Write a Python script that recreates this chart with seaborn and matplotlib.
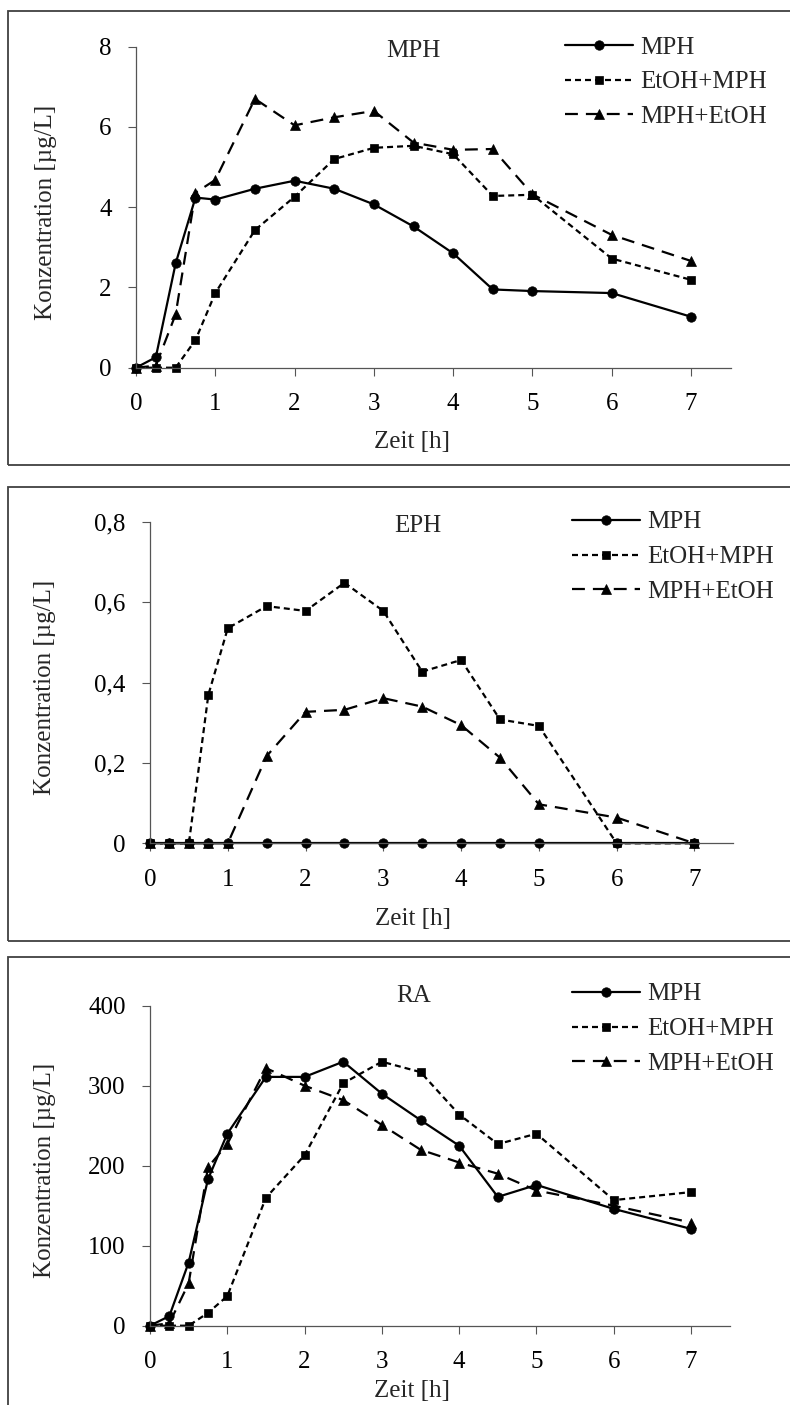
import matplotlib
matplotlib.use("Agg")
import matplotlib.pyplot as plt
from matplotlib.patches import Rectangle
import pandas as pd
import seaborn as sns

# --- data ------------------------------------------------------------------
zeit = [0, 0.25, 0.5, 0.75, 1, 1.5, 2, 2.5, 3, 3.5, 4, 4.5, 5, 6, 7]
serien = ["MPH", "EtOH+MPH", "MPH+EtOH"]

# panel MPH
mph_mph = [0, 0.26, 2.60, 4.24, 4.19, 4.46, 4.66, 4.46, 4.07, 3.52, 2.85, 1.95, 1.91, 1.86, 1.27]
mph_etoh_mph = [0, 0, 0, 0.69, 1.86, 3.43, 4.26, 5.20, 5.48, 5.53, 5.32, 4.28, 4.31, 2.72, 2.19]
mph_mph_etoh = [0, 0.05, 1.33, 4.36, 4.68, 6.70, 6.04, 6.24, 6.40, 5.61, 5.43, 5.45, 4.32, 3.31, 2.66]

# panel EPH
eph_mph = [0, 0, 0, 0, 0, 0, 0, 0, 0, 0, 0, 0, 0, 0, 0]
eph_etoh_mph = [0, 0, 0, 0.369, 0.535, 0.590, 0.578, 0.648, 0.578, 0.427, 0.456, 0.308, 0.292, 0, 0]
eph_mph_etoh = [0, 0, 0, 0, 0, 0.217, 0.327, 0.332, 0.361, 0.340, 0.294, 0.213, 0.097, 0.064, 0]

# panel RA
ra_mph = [0, 12, 79, 183, 240, 311, 311, 330, 290, 257, 225, 161, 176, 146, 121]
ra_etoh_mph = [0, 0, 0, 16, 37, 160, 213, 303, 330, 317, 264, 227, 240, 157, 167]
ra_mph_etoh = [0, 3, 53, 198, 227, 322, 300, 282, 251, 220, 204, 190, 169, 150, 129]

x_ticks = [0, 1, 2, 3, 4, 5, 6, 7]
mph_yticks = [0, 2, 4, 6, 8]
mph_ylabels = ["0", "2", "4", "6", "8"]
eph_yticks = [0, 0.2, 0.4, 0.6, 0.8]
eph_ylabels = ["0", "0,2", "0,4", "0,6", "0,8"]
ra_yticks = [0, 100, 200, 300, 400]
ra_ylabels = ["0", "100", "200", "300", "400"]

panels = [
    ("MPH", [mph_mph, mph_etoh_mph, mph_mph_etoh], mph_yticks, mph_ylabels),
    ("EPH", [eph_mph, eph_etoh_mph, eph_mph_etoh], eph_yticks, eph_ylabels),
    ("RA", [ra_mph, ra_etoh_mph, ra_mph_etoh], ra_yticks, ra_ylabels),
]

# --- layout (pixels, measured from the top-left) ---------------------------
W, H = 790, 1405
# axes box: left, right, top, bottom
axes_px = [(136, 730.7, 46.7, 367.7), (150, 733.3, 521.7, 843.3), (150, 729.7, 1005.7, 1325.7)]
frames_px = [(8, 11, 465), (8, 486.7, 941), (8, 957, 1425)]
title_px = [(413, 56.7), (417.5, 531.7), (413.5, 1001.7)]
legend_px = [(565, 82), (572, 557), (572, 1029)]
xlabel_px = [(412, 442), (413, 919), (412, 1391)]
ylabel_x = [46, 45, 45]

sns.set_style("ticks")
plt.rcParams["font.family"] = ["Liberation Serif", "DejaVu Serif"]
plt.rcParams["font.size"] = 18

fig = plt.figure(figsize=(W / 100, H / 100), dpi=100)


def fx(x):
    return x / W


def fy(y):
    return 1 - y / H


dashes = {"MPH": "", "EtOH+MPH": (2.7, 1.8), "MPH+EtOH": (5.8, 3.6)}
markers = {"MPH": "o", "EtOH+MPH": "s", "MPH+EtOH": "^"}
sizes = {"MPH": 6.8, "EtOH+MPH": 6.4, "MPH+EtOH": 7.0}

for i, (name, values, yticks, ylabels) in enumerate(panels):
    # frame round each chart
    fl, ft, fb = frames_px[i]
    fig.patches.append(Rectangle((fx(fl), fy(fb)), fx(900), fy(ft) - fy(fb),
                                 transform=fig.transFigure, fill=False,
                                 edgecolor="#404040", linewidth=1.3, zorder=0))

    left, right, top, bottom = axes_px[i]
    ax = fig.add_axes([fx(left), fy(bottom), fx(right) - fx(left), fy(top) - fy(bottom)])
    ax.patch.set_alpha(0)

    df = pd.DataFrame({
        "Zeit": zeit * 3,
        "Konz": values[0] + values[1] + values[2],
        "Serie": [s for s in serien for _ in zeit],
    })
    for s in serien:
        sub = df[df["Serie"] == s]
        sns.lineplot(data=sub, x="Zeit", y="Konz", ax=ax, color="black",
                     linewidth=1.6, marker=markers[s], markersize=sizes[s],
                     markeredgecolor="black", markeredgewidth=0.5,
                     estimator=None, sort=False, legend=False, clip_on=False,
                     label=s)
        if dashes[s]:
            ax.lines[-1].set_dashes(dashes[s])

    ax.set_xlim(0, 7.5)
    ax.set_ylim(yticks[0], yticks[-1])
    ax.set_xticks(x_ticks)
    ax.set_xticklabels([str(t) for t in x_ticks])
    ax.set_yticks(yticks)
    ax.set_yticklabels(ylabels)
    ax.tick_params(axis="both", direction="out", length=5.5, width=0.8,
                   color="#555555", labelsize=18, labelcolor="black")
    ax.tick_params(axis="x", pad=13)
    ax.tick_params(axis="y", pad=12)
    sns.despine(ax=ax)
    for sp in ["left", "bottom"]:
        ax.spines[sp].set_color("#555555")
        ax.spines[sp].set_linewidth(0.9)

    ax.set_xlabel("")
    ax.set_ylabel("")
    xl, yl = xlabel_px[i]
    fig.text(fx(xl), fy(yl), "Zeit [h]", ha="center", va="center", fontsize=18)
    fig.text(fx(ylabel_x[i]), fy((top + bottom) / 2 + 5), "Konzentration [µg/L]",
             rotation=90, ha="center", va="center", fontsize=18)

    tx, ty = title_px[i]
    fig.text(fx(tx), fy(ty), name, ha="center", va="baseline", fontsize=18)

    lx, ly = legend_px[i]
    ax.legend(handles=ax.lines[:3], labels=serien, loc="center left",
              bbox_to_anchor=(fx(lx), fy(ly)), bbox_transform=fig.transFigure,
              frameon=False, fontsize=18, handlelength=2.7, handletextpad=0.32,
              labelspacing=0.49, borderpad=0, borderaxespad=0, numpoints=1)

fig.savefig("out.png", dpi=100)
